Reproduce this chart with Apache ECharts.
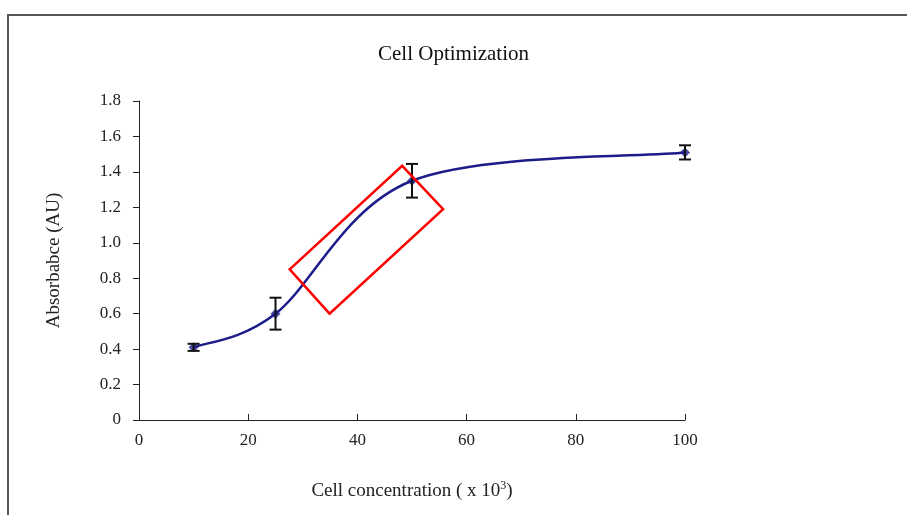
<!DOCTYPE html>
<html>
<head>
<meta charset="utf-8">
<script src="https://cdn.jsdelivr.net/npm/echarts@6/dist/echarts.min.js"></script>
<style>
  html, body { margin: 0; padding: 0; background: #fff; }
  #main { width: 907px; height: 515px; }
</style>
</head>
<body>
<div id="main"></div>
<script>
// cell concentration (x 10^3) and mean absorbance
var cellConc = [10, 25, 50, 100];
var absorbance = [0.41, 0.60, 1.35, 1.51];
var errAbs = [0.02, 0.09, 0.095, 0.04];
// red highlight box, corners in data coordinates
var boxCorners = [[27.6, 0.85], [48.2, 1.434], [55.7, 1.19], [34.9, 0.60]];

var serif = "'Liberation Serif', 'DejaVu Serif', serif";
var lineColor = '#1c1c8a';
var chart = echarts.init(document.getElementById('main'));

var lineData = cellConc.map(function(x, i) { return [x, absorbance[i]]; });
var errData = cellConc.map(function(x, i) {
  return [x, absorbance[i] - errAbs[i], absorbance[i] + errAbs[i]];
});

// excel-like smoothed line: bezier with control points from neighbours (/6)
function smoothCurve(params, api) {
  var pts = lineData.map(function(d) { return api.coord(d); });
  var segs = [];
  for (var i = 0; i < pts.length - 1; i++) {
    var p0 = pts[Math.max(i - 1, 0)], p1 = pts[i], p2 = pts[i + 1], p3 = pts[Math.min(i + 2, pts.length - 1)];
    segs.push({
      type: 'bezierCurve',
      shape: {
        x1: p1[0], y1: p1[1], x2: p2[0], y2: p2[1],
        cpx1: p1[0] + (p2[0] - p0[0]) / 6, cpy1: p1[1] + (p2[1] - p0[1]) / 6,
        cpx2: p2[0] - (p3[0] - p1[0]) / 6, cpy2: p2[1] - (p3[1] - p1[1]) / 6
      },
      style: { fill: null, stroke: lineColor, lineWidth: 2.5, lineCap: 'round' }
    });
  }
  return { type: 'group', children: segs };
}

var option = {
  backgroundColor: '#fff',
  animation: false,
  title: {
    text: 'Cell Optimization',
    left: 'center',
    top: 39,
    textStyle: { fontFamily: serif, fontWeight: 'normal', fontSize: 21, color: '#111' }
  },
  graphic: [{
    type: 'rect',
    shape: { x: 8, y: 15, width: 920, height: 520 },
    style: { fill: null, stroke: '#555', lineWidth: 2 },
    silent: true
  }],
  grid: { left: 139, right: 222, top: 101, bottom: 95 },
  xAxis: {
    type: 'value',
    min: 0, max: 100, interval: 20,
    name: 'Cell concentration ( x 10{sup|3})',
    nameLocation: 'middle',
    nameGap: 60,
    nameTextStyle: {
      fontFamily: serif, fontSize: 19, color: '#222',
      rich: { sup: { fontFamily: serif, fontSize: 12, color: '#222', verticalAlign: 'top', padding: [0, 0, 10, 0] } }
    },
    axisLine: { lineStyle: { color: '#222', width: 1 } },
    axisTick: { inside: true, length: 6, lineStyle: { color: '#222' } },
    axisLabel: { fontFamily: serif, fontSize: 17, color: '#222', margin: 12 },
    splitLine: { show: false }
  },
  yAxis: {
    type: 'value',
    min: 0, max: 1.8, interval: 0.2,
    name: 'Absorbabce (AU)',
    nameLocation: 'middle',
    nameGap: 75,
    nameTextStyle: { fontFamily: serif, fontSize: 19, color: '#222' },
    axisLine: { show: true, lineStyle: { color: '#222', width: 1 } },
    axisTick: { show: true, length: 6, lineStyle: { color: '#222' } },
    axisLabel: {
      fontFamily: serif, fontSize: 17, color: '#222', margin: 18,
      formatter: function(v) { return v === 0 ? '0' : v.toFixed(1); }
    },
    splitLine: { show: false }
  },
  series: [{
    type: 'custom',
    data: [0],
    z: 3,
    renderItem: smoothCurve
  }, {
    type: 'scatter',
    data: lineData,
    symbol: 'diamond',
    symbolSize: 10,
    itemStyle: { color: lineColor },
    z: 4
  }, {
    type: 'custom',
    data: errData,
    z: 5,
    renderItem: function(params, api) {
      var x = api.value(0);
      var lo = api.coord([x, api.value(1)]);
      var hi = api.coord([x, api.value(2)]);
      var w = 6;
      var st = { stroke: '#111', lineWidth: 2 };
      return {
        type: 'group',
        children: [
          { type: 'line', shape: { x1: lo[0], y1: lo[1], x2: hi[0], y2: hi[1] }, style: st },
          { type: 'line', shape: { x1: lo[0] - w, y1: lo[1], x2: lo[0] + w, y2: lo[1] }, style: st },
          { type: 'line', shape: { x1: hi[0] - w, y1: hi[1], x2: hi[0] + w, y2: hi[1] }, style: st }
        ]
      };
    }
  }, {
    type: 'custom',
    data: [0],
    z: 6,
    renderItem: function(params, api) {
      var pts = boxCorners.map(function(c) { return api.coord(c); });
      return {
        type: 'polygon',
        shape: { points: pts },
        style: { fill: null, stroke: '#f00', lineWidth: 2.5 }
      };
    }
  }]
};

chart.setOption(option);
</script>
</body>
</html>
